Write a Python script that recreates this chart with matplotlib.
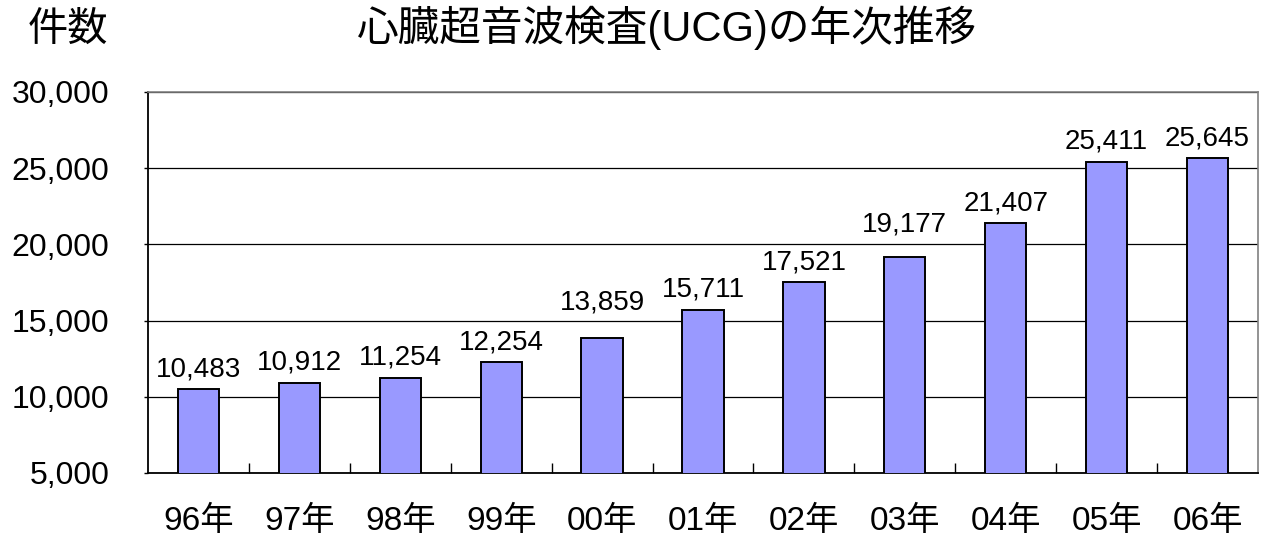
import matplotlib
matplotlib.use('Agg')
import matplotlib.pyplot as plt
from matplotlib.ticker import FuncFormatter

plt.rcParams['font.family'] = ['Liberation Sans', 'Noto Sans CJK JP']

# UCG exam counts per year
years = ['96年', '97年', '98年', '99年', '00年', '01年', '02年', '03年', '04年', '05年', '06年']
counts = [10483, 10912, 11254, 12254, 13859, 15711, 17521, 19177, 21407, 25411, 25645]
y_ticks = [5000, 10000, 15000, 20000, 25000, 30000]

# labels that sit on a gridline get pushed up a bit (points)
label_lift = [0, 0, 0, 0, 11, 0, 0, 9, 0, 0, 0]

fig = plt.figure(figsize=(12.61, 5.37), dpi=100)
ax = fig.add_axes([0.1174, 0.1192, 0.8802, 0.7095])

x = range(len(years))
ax.bar(x, counts, width=0.41, color='#9999FF', edgecolor='black', linewidth=1.4, zorder=3)
for xi, v, lift in zip(x, counts, label_lift):
    ax.annotate('{:,}'.format(v), (xi, v), xytext=(0, 5 + lift), textcoords='offset points',
                ha='center', va='bottom', fontsize=20)

ax.set_xlim(-0.5, len(years) - 0.5)
ax.set_ylim(5000, 30000)
ax.set_yticks(y_ticks)
ax.yaxis.set_major_formatter(FuncFormatter(lambda v, p: '{:,}'.format(int(v))))
ax.tick_params(axis='y', labelsize=23, length=3, width=1, pad=25)
ax.yaxis.grid(True, color='black', linewidth=0.9, zorder=1)

# category separators as inward ticks, labels on the centres
ax.set_xticks([i + 0.5 for i in range(len(years) - 1)])
ax.set_xticklabels([])
ax.tick_params(axis='x', which='major', direction='in', length=7, width=1)
ax.set_xticks(list(x), minor=True)
ax.set_xticklabels(years, minor=True)
ax.tick_params(axis='x', which='minor', length=0, labelsize=24, pad=24)

for s in ['left', 'bottom']:
    ax.spines[s].set_color('black')
    ax.spines[s].set_linewidth(1.3)
for s in ['top', 'right']:
    ax.spines[s].set_color('#808080')
    ax.spines[s].set_linewidth(1.2)

fig.text(667 / 1261, 0.948, '心臓超音波検査(UCG)の年次推移', ha='center', va='center', fontsize=30)
fig.text(68 / 1261, 0.944, '件数', ha='center', va='center', fontsize=29)

fig.savefig('out.png', dpi=100)
